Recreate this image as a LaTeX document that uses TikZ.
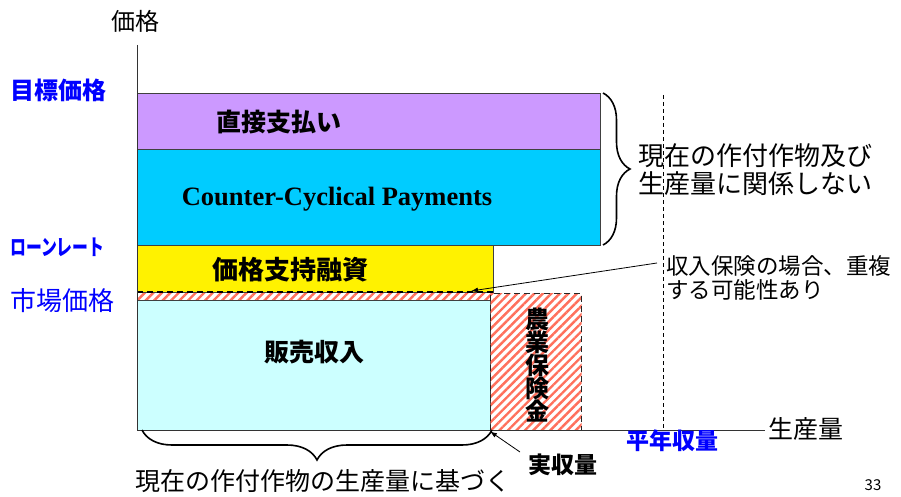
\documentclass[tikz,border=0pt]{standalone}
\usepackage{fontspec}
\setmainfont{Noto Sans CJK JP}
\newfontfamily\romanfont{Liberation Serif}
\usetikzlibrary{positioning, arrows.meta, calc, decorations.pathreplacing, patterns.meta}
\definecolor{lilac}{RGB}{204,153,255}
\definecolor{skyblue}{RGB}{0,204,255}
\definecolor{paleblue}{RGB}{204,255,255}
\definecolor{hatchred}{RGB}{255,112,92}
\definecolor{labelblue}{RGB}{0,0,255}
\newcommand{\fs}[1]{\fontsize{#1}{#1}\selectfont}
\tikzset{
  barbox/.style={draw=black!75, line width=0.9pt, anchor=north west, inner sep=0pt}, % the stacked bars
  hatched/.style={pattern={Lines[angle=45,distance=6pt,line width=2.4pt]}, pattern color=hatchred}, % red stripes
  boxtext/.style={font=\fs{25}\bfseries, inner sep=0pt}, % text inside the bars
  pricelabel/.style={text=labelblue, anchor=west, inner sep=0pt}, % blue labels on the left
  note/.style={font=\fs{25}, align=left, anchor=west, inner sep=0pt}, % remarks on the right
  curly/.style={decorate, line width=1.6pt}, % braces
}

\begin{document}
\begin{tikzpicture}[x=1pt, y=-1pt]
  \useasboundingbox (0,0) rectangle (901,497);

  % bars
  \node[barbox, fill=lilac, minimum width=463pt, minimum height=56pt] (direct) at (137,93) {};
  \node[barbox, fill=skyblue, minimum width=463pt, minimum height=96pt] (ccp) at (137,149) {};
  \node[barbox, fill=yellow, minimum width=356pt, minimum height=47pt] (loan) at (137,245) {};
  \node[barbox, draw=none, hatched, minimum width=356pt, minimum height=8pt] (overlap) at (137,292) {};
  \node[barbox, fill=paleblue, minimum width=353pt, minimum height=130pt] (sales) at (137,300) {};
  \node[barbox, draw=black!85, line width=1.4pt, dash pattern=on 6pt off 4pt, hatched,
        minimum width=91pt, minimum height=137pt] (insure) at (490,293) {};
  \draw[line width=1.4pt, dash pattern=on 6pt off 4pt] (overlap.north west) -- (overlap.north east);

  % axes
  \coordinate (origin) at (137,430);
  \coordinate (ytop) at (137,45);
  \coordinate (xend) at (765,430);
  \draw[black!80, line width=0.9pt] (ytop) -- (origin) -- (xend);
  \coordinate (normtop) at (663,95);
  \coordinate (normbot) at (663,430);
  \draw[line width=0.9pt, dash pattern=on 4pt off 3pt] (normtop) -- (normbot);

  % texts in the bars
  \node[boxtext] (directtext) at (279,122) {直接支払い};
  \node[boxtext, font=\romanfont\fs{26.5}\bfseries] (ccptext) at (337,199) {Counter-Cyclical Payments};
  \node[boxtext, font=\fs{26}\bfseries] (loantext) at (290,270) {価格支持融資};
  \node[boxtext] (salestext) at (314,352) {販売収入};
  \node[boxtext, font=\fs{24}\bfseries, align=center] (insuretext) at (537,365)
       {農\\[-1pt]業\\[-1pt]保\\[-1pt]険\\[-1pt]金};

  % axis and price labels
  \node[font=\fs{24}, inner sep=0pt] (ylabel) at (135,21) {価格};
  \node[font=\fs{25}, anchor=west, inner sep=0pt] (xlabel) at (768,429) {生産量};
  \node[pricelabel, font=\fs{24}\bfseries] (target) at (10,90) {目標価格};
  \node[pricelabel, font=\fs{22}\bfseries] (loanrate) at (10,247) {\scalebox{0.72}[1]{ローンレート}};
  \node[pricelabel, font=\fs{26}] (market) at (10,301) {市場価格};
  \node[text=labelblue, font=\fs{23}\bfseries, inner sep=0pt] (normal) at (672,441) {平年収量};
  \node[font=\fs{23}\bfseries, inner sep=0pt] (actual) at (563,465) {実収量};
  \node[font=\fs{15}, inner sep=0pt] (page) at (873,485) {33};

  % remarks
  \node[note, font=\fs{26}] (decoupled) at (638,170) {現在の作付作物及び\\[2pt]生産量に関係しない};
  \node[note, font=\fs{22.5}] (overlapnote) at (666,278) {収入保険の場合、重複\\[1pt]する可能性あり};
  \node[font=\fs{25}, inner sep=0pt] (coupled) at (323,481) {現在の作付作物の生産量に基づく};

  % braces
  \draw[curly, decoration={brace, amplitude=27pt}] (603,93) -- (603,245);
  \draw[curly, decoration={brace, amplitude=30pt}] (492,430) -- (142,430);

  % pointers
  \coordinate (notetip) at (657,263);
  \coordinate (striptip) at (471,291);
  \coordinate (actualtip) at (520,452);
  \draw[-{Latex[length=7pt,width=5pt]}, line width=0.8pt] (notetip) -- (striptip);
  \draw[-{Latex[length=7pt,width=5pt]}, line width=0.8pt] (actualtip) -- (insure.south west);
\end{tikzpicture}
\end{document}
